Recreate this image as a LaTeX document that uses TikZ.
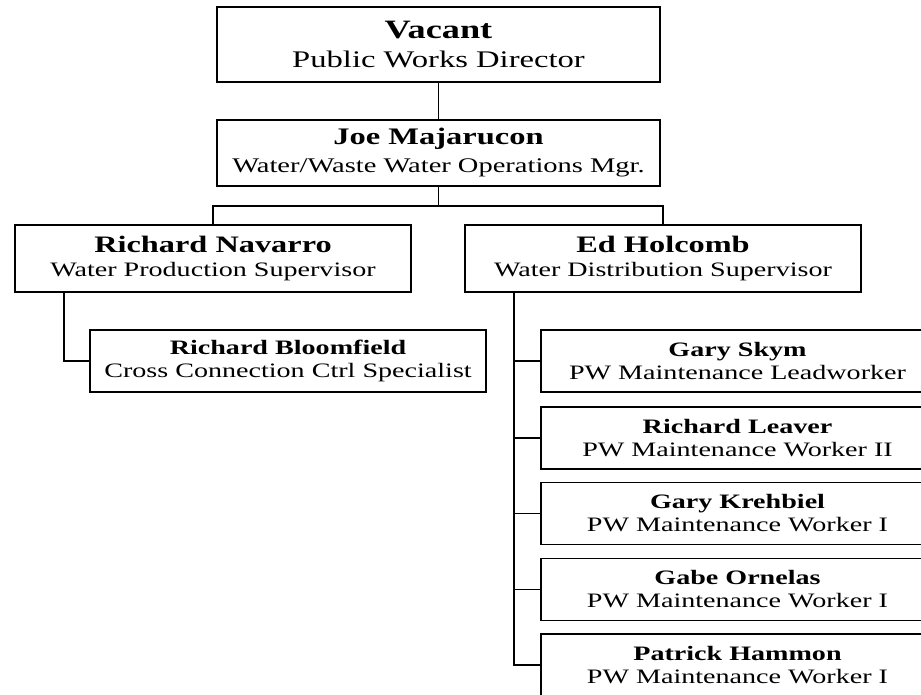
\documentclass[tikz,border=0pt]{standalone}
\usepackage{fontspec}
\setmainfont{Liberation Serif}[FakeStretch=1.37]
\begin{document}
\begin{tikzpicture}[x=1pt,y=-1pt,
  box/.style={draw, line width=1.9pt, inner sep=0pt, align=center,
    font=\fontsize{20.5}{23}\selectfont},
  head/.style={box, minimum width=443pt},
  sup/.style={box, minimum width=396pt, minimum height=67pt,
    font=\fontsize{20.5}{24}\selectfont},
  spec/.style={box, minimum width=396pt, minimum height=62pt},
  crew/.style={box, minimum width=393pt, minimum height=62pt},
  link/.style={line width=1.9pt}]
\useasboundingbox (0,0) rectangle (921,694);
\clip (0,0) rectangle (921,694);

% management chain
\node[head, minimum height=75pt, font=\fontsize{23.8}{29}\selectfont] (dir) at (438.5,44.5)
  {{\fontsize{26.5}{29}\selectfont\bfseries Vacant}\\Public Works Director};
\node[head, minimum height=66pt, font=\fontsize{20.8}{28}\selectfont] (ops) at (438.5,153)
  {{\fontsize{23.7}{28}\selectfont\bfseries Joe Majarucon}\\Water/Waste Water Operations Mgr.};

% supervisors
\node[sup] (prod) at (213,258.5)
  {{\fontsize{23.6}{24}\selectfont\bfseries Richard Navarro}\\Water Production Supervisor};
\node[sup] (dist) at (663,258.5)
  {{\fontsize{23.6}{24}\selectfont\bfseries Ed Holcomb}\\Water Distribution Supervisor};

% production staff
\node[spec] (ccs) at (288,361)
  {\textbf{Richard Bloomfield}\\Cross Connection Ctrl Specialist};

% distribution crew
\node[crew] (sk) at (737.5,361) {\textbf{Gary Skym}\\PW Maintenance Leadworker};
\node[crew] (lv) at (737.5,438) {\textbf{Richard Leaver}\\PW Maintenance Worker II};
\node[crew] (kr) at (737.5,513.5) {\textbf{Gary Krehbiel}\\PW Maintenance Worker I};
\node[crew] (or) at (737.5,589.5) {\textbf{Gabe Ornelas}\\PW Maintenance Worker I};
\node[crew] (ha) at (737.5,665) {\textbf{Patrick Hammon}\\PW Maintenance Worker I};

% connectors
\coordinate (bus) at (438.5,206);
\coordinate (prodtap) at (64,292);
\coordinate (disttap) at (514,292);
\draw[link] (dir.south) -- (ops.north);
\draw[link] (ops.south) -- (bus);
\draw[link] (prod.north) |- (bus) -| (dist.north);
\draw[link] (prodtap) |- (ccs.west);
\foreach \n in {sk,lv,kr,or,ha}
  \draw[link] (disttap) |- (\n.west);
\end{tikzpicture}
\end{document}
